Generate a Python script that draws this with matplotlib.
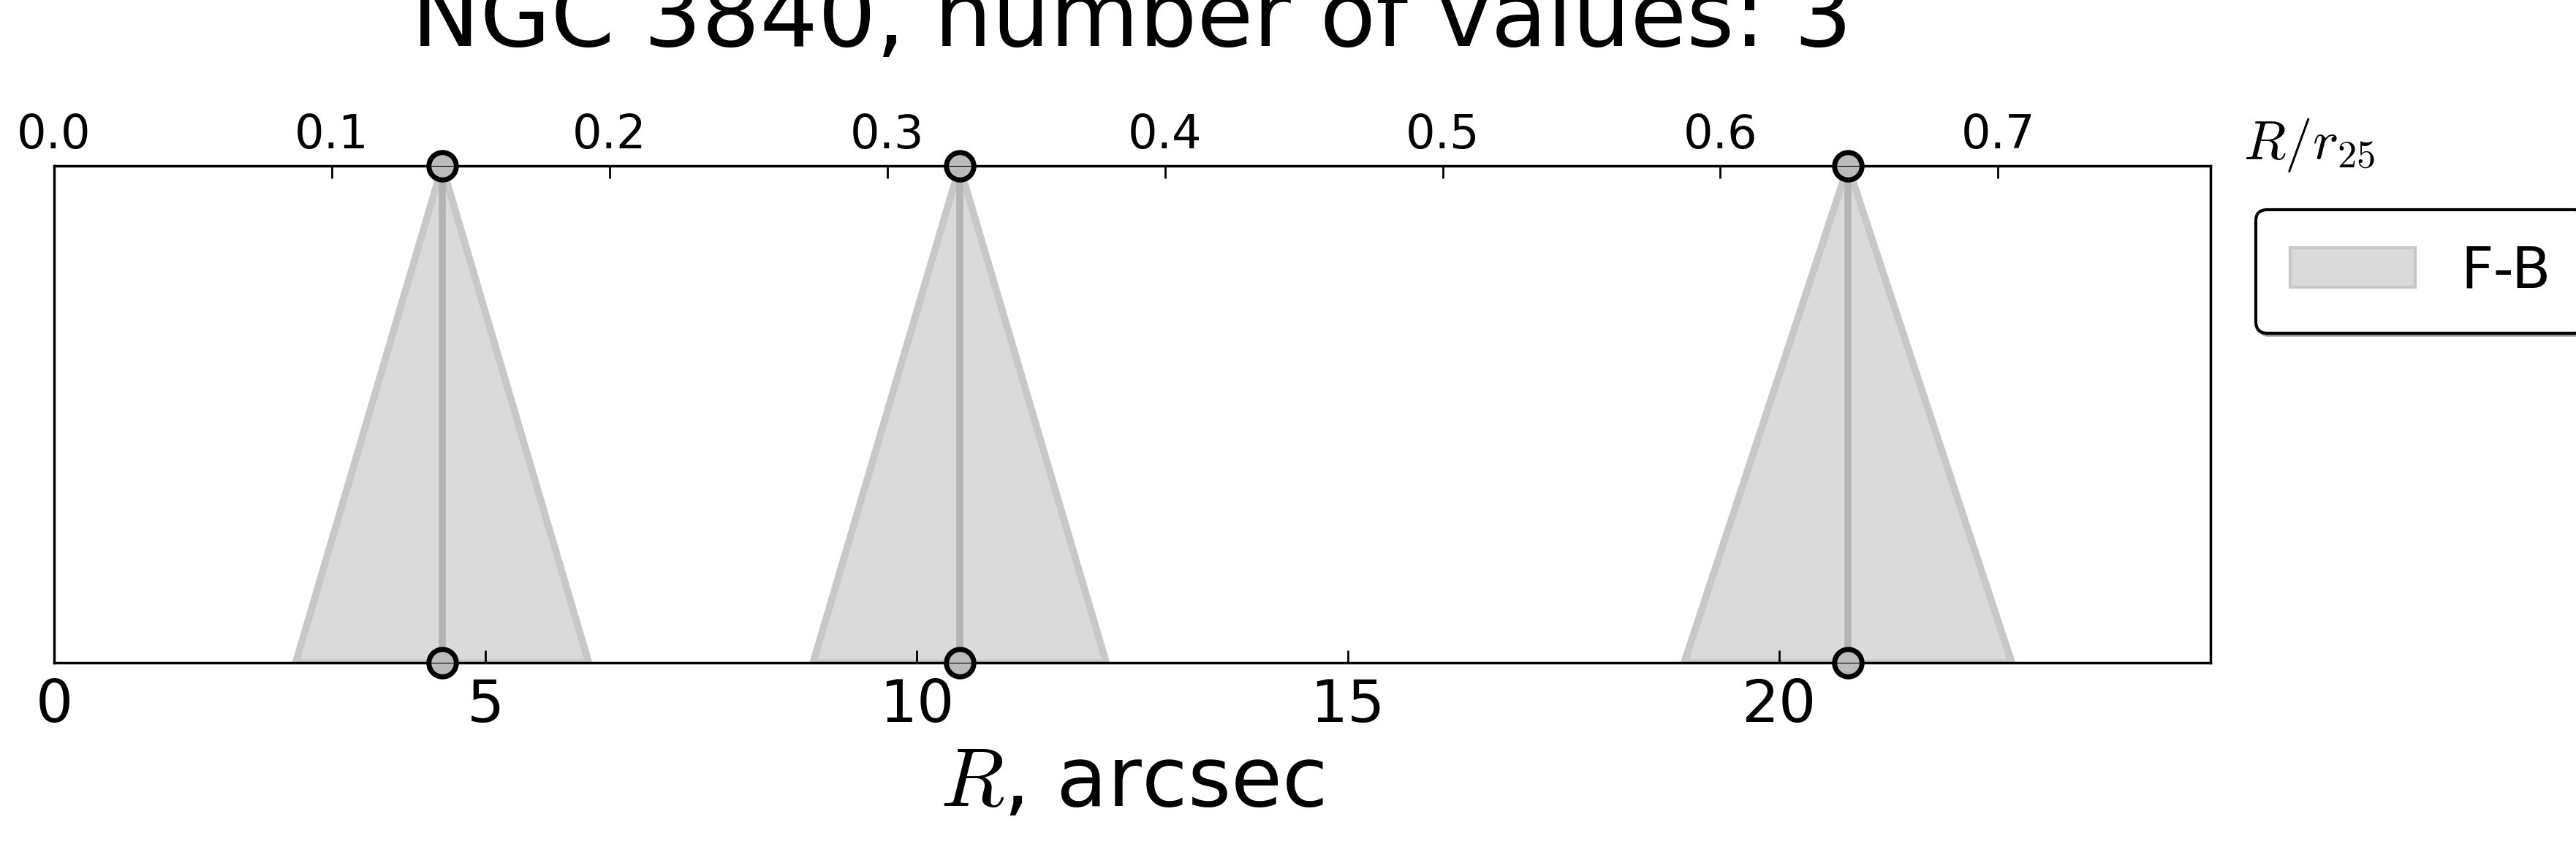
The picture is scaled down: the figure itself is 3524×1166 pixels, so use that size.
import matplotlib
matplotlib.use("Agg")
import matplotlib.pyplot as plt
import numpy as np
from matplotlib.patches import Patch

plt.rcParams["mathtext.fontset"] = "cm"

centers = [4.5, 10.5, 20.8]
half_widths = [1.7, 1.7, 1.9]
r25 = 32.2
top_ticks = [0.0, 0.1, 0.2, 0.3, 0.4, 0.5, 0.6, 0.7]

fig = plt.figure(figsize=(35.24, 11.66), dpi=100)
ax = fig.add_axes([0.021, 0.222, 0.837, 0.583])
for c, h in zip(centers, half_widths):
    ax.fill([c - h, c, c + h], [0, 1, 0], facecolor="#dadada", edgecolor="#c8c8c8", lw=7, zorder=1)
    ax.plot([c, c], [0, 1], color="#b4b4b4", lw=7, zorder=2)
    ax.plot([c, c], [0, 1], "o", ms=27, mfc="#bbbbbb", mec="black", mew=5, clip_on=False, zorder=3, ls="none")
ax.set_xlim(0, 25)
ax.set_ylim(0, 1)
ax.set_yticks([])
ax.set_xticks([0, 5, 10, 15, 20])
ax.tick_params(axis="x", labelsize=58, direction="in", length=12, width=2, pad=14)
ax.set_xlabel("$R$, arcsec", fontsize=82, labelpad=8)
for s in ax.spines.values():
    s.set_linewidth(2.5)
ax2 = ax.twiny()
ax2.set_xlim(0, 25 / r25)
ax2.set_xticks(top_ticks)
ax2.set_xticklabels([f"{t:.1f}" for t in top_ticks])
ax2.tick_params(axis="x", labelsize=46, direction="in", length=12, width=2, pad=8)
ax.set_title("NGC 3840, number of values: 3", fontsize=90, pad=66)
fig.text(0.871, 0.83, "$R/r_{25}$", fontsize=54, ha="left", va="center")
leg = ax.legend(handles=[Patch(facecolor="#dadada", edgecolor="#c8c8c8", lw=3, label="F-B")],
                loc="upper left", bbox_to_anchor=(1.008, 0.97), fontsize=56, fancybox=True,
                shadow=True, framealpha=1, borderpad=0.6, handlelength=2.2)
leg.get_frame().set_edgecolor("black")
leg.get_frame().set_linewidth(3)
fig.savefig("out.png", dpi=100)
